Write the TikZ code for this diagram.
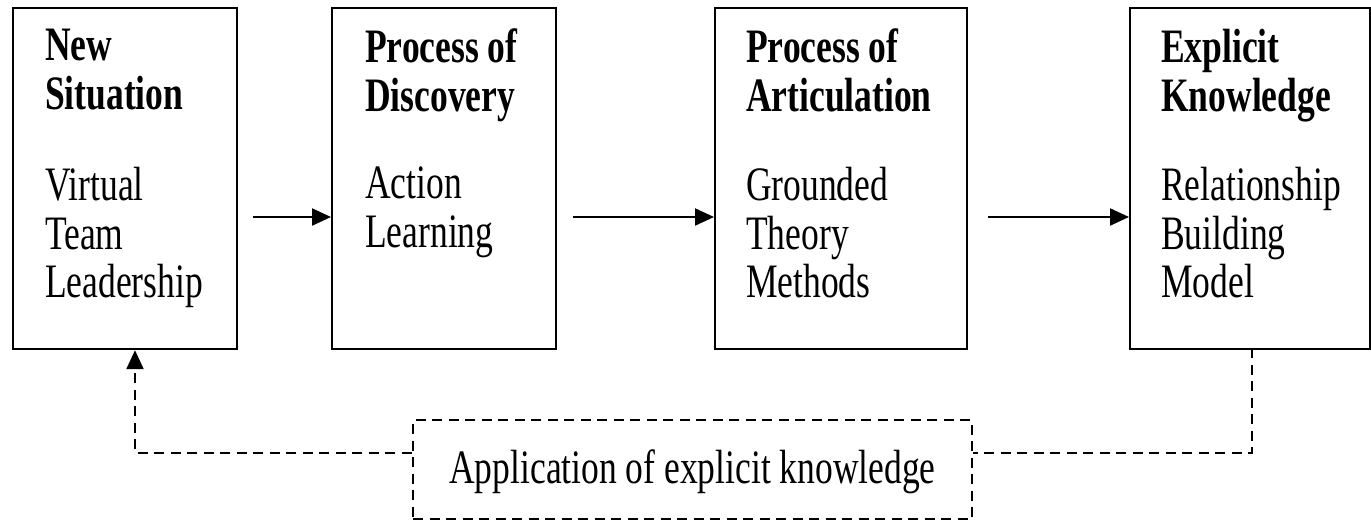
\documentclass[tikz,border=0pt]{standalone}
\usepackage{fontspec}
\setmainfont{Liberation Serif}[FakeStretch=0.74]
\usetikzlibrary{arrows.meta}
\begin{document}
\begin{tikzpicture}[x=1pt,y=-1pt,
  stagebox/.style={draw, line width=2.2pt, inner sep=0pt, anchor=north west, minimum height=341pt},
  headtxt/.style={anchor=north west, inner sep=0pt, align=left, font=\fontsize{48}{48.5}\selectfont\bfseries},
  bodytxt/.style={anchor=north west, inner sep=0pt, align=left, font=\fontsize{48}{48.5}\selectfont},
  conn/.style={line width=2.2pt, -{Triangle[length=19pt,width=17pt]}},
  fb/.style={line width=2.2pt, dash pattern=on 10pt off 6.5pt},
  appbox/.style={draw, line width=2.2pt, dash pattern=on 10pt off 6.5pt, inner sep=0pt,
    minimum width=559pt, minimum height=99pt, text height=35pt, text depth=7pt,
    font=\fontsize{48}{48.5}\selectfont}]
\useasboundingbox (0,0) rectangle (1371,522);

% stage boxes
\node[stagebox, minimum width=224pt] (b1) at (12,7) {};
\node[stagebox, minimum width=224pt] (b2) at (331,7) {};
\node[stagebox, minimum width=252pt] (b3) at (714,7) {};
\node[stagebox, minimum width=240pt] (b4) at (1129,7) {};

% texts
\node[headtxt] (h1) at (45,29) {New\\Situation};
\node[bodytxt] (t1) at (45,167) {Virtual\\Team\\Leadership};
\node[headtxt] (h2) at (365,29) {Process of\\Discovery};
\node[bodytxt] (t2) at (365,167) {Action\\Learning};
\node[headtxt] (h3) at (746,29) {Process of\\Articulation};
\node[bodytxt] (t3) at (746,167) {Grounded\\Theory\\Methods};
\node[headtxt] (h4) at (1161,29) {Explicit\\Knowledge};
\node[bodytxt] (t4) at (1161,167) {Relationship\\Building\\Model};

% forward arrows
\coordinate (a1) at (253,217);
\coordinate (a2) at (573,217);
\coordinate (a3) at (988,217);
\draw[conn] (a1) -- (a1 -| b2.west);
\draw[conn] (a2) -- (a2 -| b3.west);
\draw[conn] (a3) -- (a3 -| b4.west);

% feedback
\node[appbox] (app) at (692.5,469.5) {Application of explicit knowledge};
\coordinate (f4) at (1252,348);
\coordinate (r1) at (1252,453);
\coordinate (l1) at (135,453);
\draw[fb] (f4) -- (r1) -- (r1 -| app.east);
\draw[fb, -{Triangle[length=19pt,width=17pt]}] (l1 -| app.west) -- (l1) -- (l1 |- b1.south);
\end{tikzpicture}
\end{document}
